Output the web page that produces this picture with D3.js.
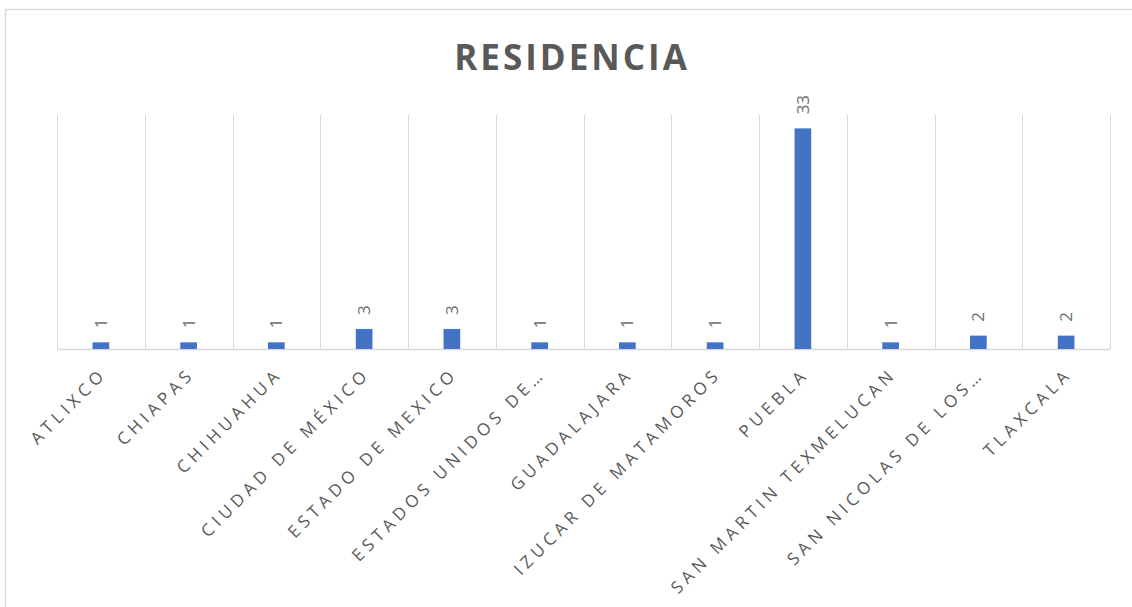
<!DOCTYPE html>
<html lang="es">
<head>
    <meta charset="UTF-8">
    <title>Residencia</title>
    <script src="https://d3js.org/d3.v7.min.js"></script>
    <style>
        body {
            margin: 0;
            background: #fff;
            overflow: hidden;
        }

        text {
            font-family: 'Open Sans', sans-serif;
            fill: #595959;
        }
    </style>
</head>
<body>
    <div id="chart"></div>

<script>
    // datos de la gráfica
    let categories = ["ATLIXCO", "CHIAPAS", "CHIHUAHUA", "CIUDAD DE MÉXICO", "ESTADO DE MEXICO",
        "ESTADOS UNIDOS DE…", "GUADALAJARA", "IZUCAR DE MATAMOROS", "PUEBLA",
        "SAN MARTIN TEXMELUCAN", "SAN NICOLAS DE LOS…", "TLAXCALA"];
    let values = [1, 1, 1, 3, 3, 1, 1, 1, 33, 1, 2, 2];
    let yMax = 35;
    let title = "RESIDENCIA";

    let width = 1132, height = 607;
    let plot = { left: 57, right: 1110, top: 115, bottom: 349 };

    let svg = d3.select("#chart").append("svg")
        .attr("width", width)
        .attr("height", height);

    // marco
    svg.append("rect")
        .attr("x", 5.5).attr("y", 9.5)
        .attr("width", 1140).attr("height", 620)
        .attr("fill", "none")
        .attr("stroke", "#d9d9d9")
        .attr("stroke-width", 1.5);

    svg.append("text")
        .attr("x", 572)
        .attr("y", 70)
        .attr("text-anchor", "middle")
        .style("font-size", "35px")
        .style("font-weight", "700")
        .style("letter-spacing", "3px")
        .text(title);

    let x = d3.scaleBand()
        .domain(categories)
        .range([plot.left, plot.right])
        .paddingInner(0.81)
        .paddingOuter(0.405);

    let xCell = d3.scaleBand()
        .domain(categories)
        .range([plot.left, plot.right]);

    let y = d3.scaleLinear()
        .domain([0, yMax])
        .range([plot.bottom, plot.top]);

    // líneas verticales entre categorías
    let bounds = categories.map(c => xCell(c)).concat([plot.right]);
    svg.append("g")
        .selectAll("line")
        .data(bounds)
        .enter().append("line")
        .attr("x1", d => Math.round(d) + 0.5)
        .attr("x2", d => Math.round(d) + 0.5)
        .attr("y1", y(yMax))
        .attr("y2", y(0))
        .attr("stroke", "#d9d9d9")
        .attr("stroke-width", 1);

    // eje x
    svg.append("line")
        .attr("x1", plot.left).attr("x2", plot.right)
        .attr("y1", y(0) + 0.5).attr("y2", y(0) + 0.5)
        .attr("stroke", "#d9d9d9")
        .attr("stroke-width", 1.5);

    let data = categories.map((c, i) => ({ name: c, value: values[i] }));

    svg.append("g")
        .selectAll("rect")
        .data(data)
        .enter().append("rect")
        .attr("x", d => x(d.name))
        .attr("width", x.bandwidth())
        .attr("y", d => y(d.value))
        .attr("height", d => y(0) - y(d.value))
        .attr("fill", "#4472c4");

    // etiquetas de datos
    svg.append("g")
        .selectAll("text")
        .data(data)
        .enter().append("text")
        .attr("transform", d => "translate(" + (x(d.name) + x.bandwidth() / 2) + "," + (y(d.value) - 14) + ") rotate(-90)")
        .attr("dy", "0.35em")
        .style("font-size", "17px")
        .style("fill", "#707070")
        .text(d => d.value);

    // etiquetas del eje
    svg.append("g")
        .selectAll("text")
        .data(categories)
        .enter().append("text")
        .attr("transform", d => "translate(" + (xCell(d) + xCell.bandwidth() / 2 - 2) + "," + (plot.bottom + 17) + ") rotate(-45)")
        .attr("text-anchor", "end")
        .attr("dy", "0.75em")
        .style("font-size", "17px")
        .style("letter-spacing", "4.6px")
        .text(d => d);
</script>
</body>
</html>
